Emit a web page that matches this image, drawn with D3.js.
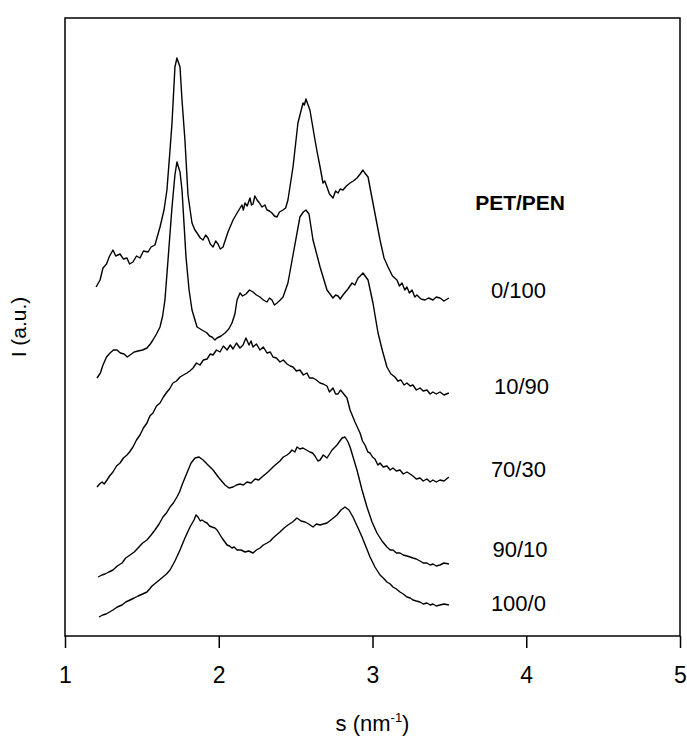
<!DOCTYPE html>
<html><head><meta charset="utf-8">
<script src="https://cdn.jsdelivr.net/npm/d3@7/dist/d3.min.js"></script>
<style>body{margin:0;background:#fff}svg{display:block}</style>
</head><body><svg id="c" width="687" height="738"></svg>
<script>
// x ticks
const xTicks = [1, 2, 3, 4, 5];
const labels = ["0/100", "10/90", "70/30", "90/10", "100/0"];
// each series: [s (nm^-1), I (a.u.)]
const s0_100 = [[1.202,349],[1.228,356],[1.247,368],[1.270,372],[1.290,380],[1.312,386],[1.330,380],[1.358,382],[1.380,377],[1.403,378],[1.420,372],[1.442,374],[1.465,380],[1.488,378],[1.510,385],[1.540,384],[1.560,389],[1.585,391],[1.618,409],[1.644,426],[1.663,446],[1.683,486],[1.696,513],[1.715,569],[1.728,578],[1.748,569],[1.761,536],[1.780,496],[1.800,441],[1.826,413],[1.845,406],[1.859,403],[1.880,398],[1.898,396],[1.915,401],[1.930,398],[1.945,392],[1.963,389],[1.980,395],[1.995,392],[2.010,387],[2.028,389],[2.045,397],[2.060,404],[2.093,416],[2.119,423],[2.135,427],[2.151,431],[2.160,426],[2.171,433],[2.185,430],[2.203,438],[2.213,431],[2.223,432],[2.235,440],[2.249,436],[2.265,433],[2.281,429],[2.300,431],[2.314,426],[2.330,425],[2.346,423],[2.362,420],[2.379,419],[2.395,424],[2.418,426],[2.435,428],[2.450,436],[2.483,469],[2.515,513],[2.548,533],[2.557,531],[2.567,537],[2.593,526],[2.626,496],[2.640,484],[2.659,469],[2.678,453],[2.690,455],[2.704,449],[2.720,442],[2.743,438],[2.760,445],[2.776,443],[2.790,447],[2.808,446],[2.830,450],[2.854,453],[2.875,455],[2.899,458],[2.920,462],[2.938,466],[2.950,463],[2.971,459],[3.003,433],[3.049,396],[3.075,378],[3.101,369],[3.130,360],[3.159,356],[3.175,350],[3.192,353],[3.210,346],[3.224,349],[3.240,343],[3.257,346],[3.275,339],[3.289,341],[3.315,337],[3.341,336],[3.365,338],[3.393,336],[3.415,339],[3.439,338],[3.465,335],[3.497,338]];
const s10_90 = [[1.208,258],[1.230,263],[1.247,271],[1.270,279],[1.293,283],[1.315,286],[1.338,286],[1.360,283],[1.384,282],[1.405,279],[1.423,281],[1.450,284],[1.475,285],[1.505,286],[1.533,288],[1.555,292],[1.572,296],[1.595,302],[1.618,309],[1.635,320],[1.650,336],[1.670,376],[1.696,429],[1.715,461],[1.728,474],[1.748,464],[1.761,446],[1.787,379],[1.807,346],[1.826,326],[1.859,309],[1.891,306],[1.924,303],[1.940,300],[1.956,299],[1.975,296],[1.989,298],[2.015,300],[2.041,303],[2.065,307],[2.086,313],[2.105,322],[2.119,336],[2.138,343],[2.155,340],[2.177,342],[2.200,346],[2.223,344],[2.245,341],[2.268,339],[2.290,336],[2.314,334],[2.330,338],[2.346,336],[2.362,331],[2.379,333],[2.400,336],[2.418,339],[2.450,353],[2.483,381],[2.528,419],[2.550,424],[2.567,426],[2.587,422],[2.613,396],[2.659,369],[2.704,346],[2.743,338],[2.760,341],[2.776,340],[2.790,337],[2.808,341],[2.840,347],[2.867,353],[2.885,351],[2.906,358],[2.920,360],[2.938,363],[2.971,356],[3.003,333],[3.036,303],[3.065,285],[3.094,269],[3.120,262],[3.146,259],[3.165,255],[3.185,256],[3.205,251],[3.224,253],[3.245,250],[3.263,251],[3.285,246],[3.309,248],[3.330,245],[3.354,246],[3.375,242],[3.393,244],[3.415,242],[3.439,244],[3.465,241],[3.497,243]];
const s70_30 = [[1.208,149],[1.225,152],[1.241,154],[1.255,152],[1.273,156],[1.290,160],[1.312,164],[1.335,170],[1.358,173],[1.380,178],[1.403,181],[1.420,184],[1.442,189],[1.465,196],[1.488,201],[1.510,208],[1.533,213],[1.552,220],[1.572,223],[1.595,230],[1.618,233],[1.640,239],[1.663,244],[1.680,247],[1.702,253],[1.725,255],[1.748,259],[1.770,261],[1.793,263],[1.812,265],[1.833,268],[1.855,273],[1.878,271],[1.900,276],[1.924,277],[1.945,282],[1.963,281],[1.985,286],[2.008,284],[2.030,290],[2.054,286],[2.075,291],[2.093,287],[2.115,293],[2.138,288],[2.158,291],[2.177,298],[2.197,291],[2.210,295],[2.223,289],[2.245,292],[2.268,286],[2.290,289],[2.314,283],[2.335,284],[2.353,279],[2.375,278],[2.398,274],[2.420,276],[2.444,272],[2.465,270],[2.483,269],[2.505,265],[2.528,266],[2.550,261],[2.574,263],[2.590,258],[2.613,258],[2.635,256],[2.659,253],[2.680,252],[2.704,250],[2.720,244],[2.743,248],[2.760,242],[2.776,242],[2.792,246],[2.808,243],[2.834,238],[2.854,226],[2.886,214],[2.919,203],[2.935,195],[2.951,191],[2.970,184],[2.984,183],[3.000,179],[3.016,177],[3.035,171],[3.049,173],[3.070,169],[3.094,170],[3.115,166],[3.133,168],[3.155,165],[3.179,166],[3.200,162],[3.224,164],[3.245,162],[3.263,160],[3.285,157],[3.309,158],[3.330,155],[3.354,157],[3.375,154],[3.393,156],[3.415,154],[3.439,156],[3.465,155],[3.497,159]];
const s90_10 = [[1.215,59],[1.240,61],[1.260,62],[1.285,64],[1.312,66],[1.340,70],[1.371,73],[1.395,78],[1.423,81],[1.450,84],[1.475,88],[1.505,93],[1.533,96],[1.560,101],[1.585,106],[1.612,112],[1.637,119],[1.660,123],[1.683,129],[1.705,133],[1.728,139],[1.745,144],[1.761,151],[1.793,163],[1.820,173],[1.846,178],[1.872,179],[1.898,176],[1.930,171],[1.963,166],[2.002,158],[2.041,151],[2.067,148],[2.093,149],[2.115,151],[2.138,152],[2.160,151],[2.184,154],[2.210,153],[2.236,157],[2.260,156],[2.281,159],[2.320,164],[2.353,169],[2.375,172],[2.398,175],[2.420,179],[2.444,181],[2.460,183],[2.476,186],[2.495,184],[2.509,189],[2.528,187],[2.548,188],[2.570,186],[2.593,184],[2.610,183],[2.626,180],[2.645,175],[2.659,176],[2.680,181],[2.704,178],[2.737,186],[2.769,191],[2.802,198],[2.821,199],[2.841,194],[2.854,189],[2.899,166],[2.932,146],[2.964,129],[2.997,114],[3.029,103],[3.062,95],[3.094,89],[3.115,86],[3.133,86],[3.155,83],[3.179,83],[3.200,81],[3.224,80],[3.245,79],[3.263,78],[3.285,77],[3.309,75],[3.330,73],[3.354,73],[3.375,71],[3.393,72],[3.415,70],[3.439,71],[3.465,73],[3.497,72]];
const s100_0 = [[1.221,19],[1.245,21],[1.267,22],[1.290,24],[1.312,26],[1.340,29],[1.371,31],[1.395,34],[1.423,36],[1.450,38],[1.475,40],[1.505,42],[1.533,44],[1.550,47],[1.566,50],[1.598,54],[1.637,59],[1.660,62],[1.683,66],[1.715,75],[1.748,86],[1.780,98],[1.813,109],[1.839,116],[1.852,121],[1.865,119],[1.880,115],[1.891,116],[1.910,114],[1.924,113],[1.940,110],[1.956,109],[1.975,108],[1.989,106],[2.021,98],[2.054,91],[2.070,90],[2.086,88],[2.100,89],[2.119,86],[2.145,86],[2.171,84],[2.195,85],[2.223,83],[2.245,86],[2.268,88],[2.290,91],[2.314,93],[2.335,95],[2.353,98],[2.375,101],[2.398,104],[2.425,108],[2.450,111],[2.480,114],[2.509,118],[2.535,115],[2.561,114],[2.585,112],[2.613,109],[2.635,112],[2.659,111],[2.680,112],[2.704,113],[2.737,117],[2.769,121],[2.795,126],[2.821,129],[2.847,126],[2.873,119],[2.906,108],[2.932,99],[2.958,89],[2.984,79],[3.016,69],[3.049,61],[3.070,58],[3.094,54],[3.115,52],[3.133,49],[3.155,47],[3.179,44],[3.200,42],[3.224,39],[3.245,38],[3.263,36],[3.285,35],[3.309,34],[3.330,32],[3.354,33],[3.375,31],[3.393,32],[3.415,30],[3.439,31],[3.465,32],[3.497,31]];
// label baselines in data units [s, I]
const labelPos = [[3.77,338],[3.79,242],[3.77,159],[3.78,79],[3.77,25]];
const titlePos = [3.96, 426];

const series = [s0_100, s10_90, s70_30, s90_10, s100_0];
const svg = d3.select("#c");
const L = 65, R = 680, T = 18, B = 636;
const x = d3.scaleLinear().domain([1, 5]).range([L, R]);
const y = d3.scaleLinear().domain([0, 618]).range([B, T]);
const font = "'Liberation Sans', Arial, sans-serif";

// frame
svg.append("rect").attr("x", L).attr("y", T).attr("width", R - L).attr("height", B - T)
  .attr("fill", "none").attr("stroke", "#000").attr("stroke-width", 1.5);

const xAxis = svg.append("g").attr("transform", `translate(0,${B})`)
  .call(d3.axisBottom(x).tickValues(xTicks).tickFormat(d3.format("d")).tickSize(12).tickPadding(19));
xAxis.select(".domain").remove();
xAxis.selectAll("line").attr("stroke", "#000").attr("stroke-width", 1.5);
xAxis.selectAll("text").attr("font-family", font).attr("font-size", 23).attr("fill", "#000");

const line = d3.line().x(d => x(d[0])).y(d => y(d[1])).curve(d3.curveLinear);
series.forEach(s => {
  svg.append("path").attr("d", line(s)).attr("fill", "none")
    .attr("stroke", "#000").attr("stroke-width", 1.4).attr("stroke-linejoin", "round");
});

labels.forEach((t, i) => {
  svg.append("text").attr("x", x(labelPos[i][0])).attr("y", y(labelPos[i][1]))
    .attr("font-family", font).attr("font-size", 22).attr("fill", "#000").text(t);
});
svg.append("text").attr("x", x(titlePos[0])).attr("y", y(titlePos[1])).attr("text-anchor", "middle")
  .attr("font-family", font).attr("font-size", 21).attr("font-weight", "bold").text("PET/PEN");

// axis titles
const xt = svg.append("text").attr("x", (L + R) / 2).attr("y", 731).attr("text-anchor", "middle")
  .attr("font-family", font).attr("font-size", 22);
xt.append("tspan").text("s (nm");
xt.append("tspan").attr("dy", -9).attr("font-size", 13).text("-1");
xt.append("tspan").attr("dy", 9).text(")");

svg.append("text").attr("transform", `translate(26,${(T + B) / 2}) rotate(-90)`)
  .attr("text-anchor", "middle").attr("font-family", font).attr("font-size", 21).text("I (a.u.)");
</script></body></html>
